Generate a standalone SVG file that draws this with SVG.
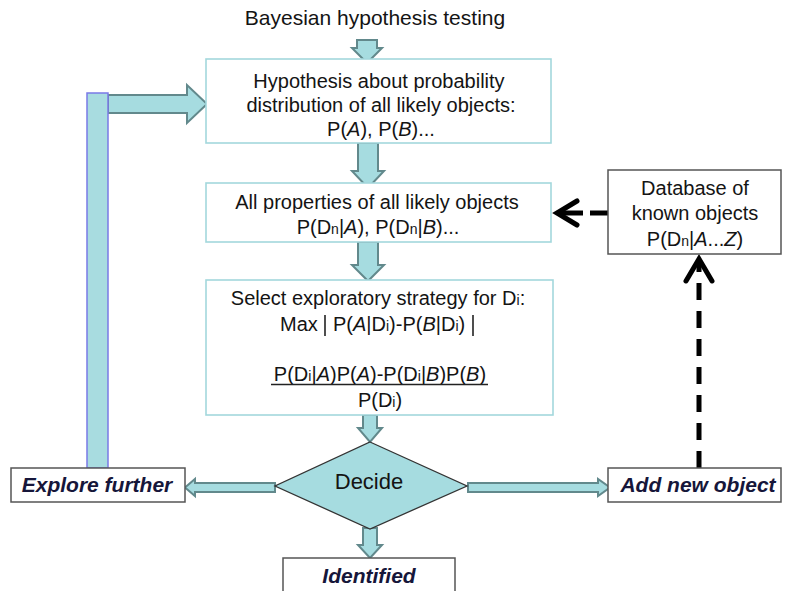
<svg xmlns="http://www.w3.org/2000/svg" width="785" height="591" viewBox="0 0 785 591">
<style>
text{font-family:"Liberation Sans",Arial,sans-serif;fill:#141414}
.t{font-size:20px;text-anchor:middle}
.s{font-size:14px}
.lbl{font-size:21px;font-weight:bold;font-style:italic;fill:#16163a;text-anchor:middle}
.cbox{fill:#fff;stroke:#a3d8dc;stroke-width:1.6}
.gbox{fill:#fff;stroke:#555;stroke-width:1.5}
.blk{fill:#a6dce0;stroke:#62898c;stroke-width:2;stroke-linejoin:miter}
.dash{fill:none;stroke:#000;stroke-width:5}
</style>
<rect width="785" height="591" fill="#fff"/>

<g id="title"><text class="t" x="375" y="25" style="font-size:21px">Bayesian hypothesis testing</text></g>

<g id="connectors">
  <polygon class="blk" points="357,40 377,40 377,48 382,48 367,63 352,48 357,48"/>
  <polygon class="blk" points="358,143 378,143 378,171 384,171 368,188 352,171 358,171"/>
  <polygon class="blk" points="358,242 378,242 378,265 384,265 368,281 352,265 358,265"/>
  <polygon class="blk" points="363,415 377,415 377,428 382,428 370,442 358,428 363,428"/>
  <polygon class="blk" points="363,528 377,528 377,545 382,545 370,558 358,545 363,545"/>
  <polygon class="blk" points="275,483 195,483 195,479 185,487.5 195,496 195,492 275,492"/>
  <polygon class="blk" points="468,483 598,483 598,479 610,487.5 598,496 598,492 468,492"/>
  <polygon class="blk" points="108,95 187,95 187,85 207,104 187,123 187,113 108,113"/>
  <rect x="87" y="93" width="21" height="375" fill="#a8dce0" stroke="#7a7ae6" stroke-width="1.5"/>
  <line class="dash" x1="699" y1="468" x2="699" y2="262" stroke-dasharray="17 11"/>
  <polyline class="dash" points="686,281 699,259 712,281" stroke-linecap="round"/>
  <line class="dash" x1="608" y1="213" x2="590" y2="213"/>
  <line class="dash" x1="583" y1="213" x2="558" y2="213"/>
  <polyline class="dash" points="577,201 557,213 577,225" stroke-linecap="round"/>
</g>

<g id="hypothesis">
  <rect class="cbox" x="206" y="59" width="345" height="84"/>
  <text class="t" x="379" y="88">Hypothesis about probability</text>
  <text class="t" x="381" y="112">distribution of all likely objects:</text>
  <text class="t" x="381" y="136">P(<tspan font-style="italic">A</tspan>), P(<tspan font-style="italic">B</tspan>)...</text>
</g>

<g id="properties">
  <rect class="cbox" x="206" y="183" width="345" height="59"/>
  <text class="t" x="377" y="209">All properties of all likely objects</text>
  <text class="t" x="378" y="234">P(D<tspan class="s">n</tspan>|<tspan font-style="italic">A</tspan>), P(D<tspan class="s">n</tspan>|<tspan font-style="italic">B</tspan>)...</text>
</g>

<g id="strategy">
  <rect class="cbox" x="206" y="280" width="347" height="135"/>
  <text class="t" x="378" y="305">Select exploratory strategy for D<tspan class="s">i</tspan>:</text>
  <text style="font-size:20px" x="280" y="331">Max</text>
  <line x1="325" y1="315" x2="325" y2="336" stroke="#222" stroke-width="1.6"/>
  <text style="font-size:20px" x="333" y="331">P(<tspan font-style="italic">A</tspan>|D<tspan class="s">i</tspan>)-P(<tspan font-style="italic">B</tspan>|D<tspan class="s">i</tspan>)</text>
  <line x1="473" y1="315" x2="473" y2="336" stroke="#222" stroke-width="1.6"/>
  <text class="t" x="380" y="381">P(D<tspan class="s">i</tspan>|<tspan font-style="italic">A</tspan>)P(<tspan font-style="italic">A</tspan>)-P(D<tspan class="s">i</tspan>|<tspan font-style="italic">B</tspan>)P(<tspan font-style="italic">B</tspan>)</text>
  <line x1="271" y1="384.5" x2="488" y2="384.5" stroke="#222" stroke-width="1.5"/>
  <text class="t" x="380" y="407">P(D<tspan class="s">i</tspan>)</text>
</g>

<g id="database">
  <rect class="gbox" x="608" y="170" width="173" height="84"/>
  <text class="t" x="695" y="195">Database of</text>
  <text class="t" x="695" y="220">known objects</text>
  <text class="t" x="695" y="246">P(D<tspan class="s">n</tspan>|<tspan font-style="italic">A</tspan>...<tspan font-style="italic">Z</tspan>)</text>
</g>

<g id="decide">
  <polygon points="370,442 467,486 370,529 275,486" fill="#a6dce0" stroke="#333" stroke-width="1.3"/>
  <text class="t" x="369" y="489" style="font-size:22px">Decide</text>
</g>

<g id="explore">
  <rect class="gbox" x="11" y="468" width="174" height="34"/>
  <text class="lbl" x="97" y="492">Explore further</text>
</g>

<g id="addnew">
  <rect class="gbox" x="608" y="468" width="173" height="34"/>
  <text class="lbl" x="698" y="492">Add new object</text>
</g>

<g id="identified">
  <rect class="gbox" x="283" y="558" width="172" height="40"/>
  <text class="lbl" x="369" y="583">Identified</text>
</g>
</svg>
